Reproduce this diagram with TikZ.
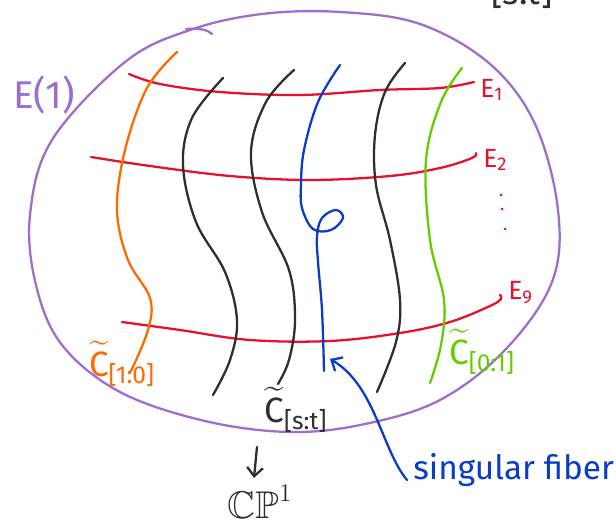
\documentclass[tikz,border=0pt]{standalone}
\usepackage{fontspec}
\usepackage{amsmath,amssymb}
\setsansfont{Fira Sans}
\usetikzlibrary{arrows.meta}
\definecolor{cpurple}{HTML}{9B6FD0}
\definecolor{cred}{HTML}{E8112D}
\definecolor{corange}{HTML}{FF6A00}
\definecolor{cblack}{HTML}{2E2E2E}
\definecolor{cblue}{HTML}{0A3CC8}
\definecolor{cgreen}{HTML}{66CC00}
\newcommand{\tC}[1]{$\widetilde{\textsf{C}}_{\textsf{#1}}$}
\begin{document}
\begin{tikzpicture}[x=0.02cm,y=-0.02cm, line cap=round, line join=round,
  hand/.style={line width=1.3pt},
  fiber/.style={hand, smooth, tension=0.6},
  lbl/.style={font=\sffamily\fontsize{15}{15}\selectfont, inner sep=0pt},
  clbl/.style={font=\fontsize{20}{20}\selectfont, inner sep=0pt}]
\useasboundingbox (0,0) rectangle (616,520);

% boundary of E(1)
\draw[hand, cpurple] plot[smooth cycle, tension=0.6] coordinates {
 (30,215) (52,140) (125,62) (190,30) (262,14) (340,12) (420,24) (490,64)
 (535,124) (558,210) (552,282) (505,350) (440,400) (365,424) (290,432)
 (205,421) (120,392) (62,345) (36,285)};
\draw[hand, cpurple] (186,29) .. controls (200,28) and (208,30) .. (212,34);

% exceptional curves
\draw[hand, cred] plot[smooth, tension=0.6] coordinates {(129,74) (160,84) (220,92) (300,95) (380,90) (440,88) (474,82)};
\draw[hand, cred] plot[smooth, tension=0.6] coordinates {(91,157) (150,166) (230,176) (310,180) (390,176) (440,168) (472,158) (476,153)};
\draw[hand, cred] plot[smooth, tension=0.6] coordinates {(122,322) (180,330) (250,340) (330,341) (400,333) (450,322) (490,306) (501,299) (500,295)};

% fibres
\draw[fiber, corange] plot coordinates {(177,52) (147,88) (125,150) (117,210) (128,260) (150,298) (148,330) (131,371)};
\draw[fiber, cblack] plot coordinates {(223,78) (192,118) (183,165) (196,222) (225,272) (237,320) (230,360) (213,395)};
\draw[fiber, cblack] plot coordinates {(294,70) (266,102) (251,152) (262,212) (289,270) (295,320) (289,360) (278,384)};
\draw[fiber, cblue] plot coordinates {(340,65) (318,102) (304,150) (301,185) (302,208) (313,229) (331,230) (343,218) (336,210) (322,218) (317,236) (318,262) (322,310) (324,371)};
\draw[fiber, cblack] plot coordinates {(405,63) (385,92) (375,135) (376,185) (390,240) (400,300) (396,342) (377,392)};
\draw[fiber, cgreen] plot coordinates {(462,68) (441,102) (426,160) (430,240) (444,300) (441,345) (430,383)};

% labels
\node[font=\sffamily\fontsize{22}{22}\selectfont, text=cpurple, inner sep=0pt] (E) at (44,95) {E(1)};
\node[lbl, text=cred, anchor=west] (e1) at (480,90) {E\textsubscript{1}};
\node[lbl, text=cred, anchor=west] (e2) at (483,160) {E\textsubscript{2}};
\node[lbl, text=cred, anchor=west] (e9) at (508,293) {E\textsubscript{9}};
\foreach \p in {(501,195),(502,209),(505,229)} \fill[cred] \p circle (1.5);

\node[clbl, text=corange] (c10) at (122,364) {\tC{[1:0]}};
\node[clbl, text=cblack] (cst) at (296,410) {\tC{[s:t]}};
\node[clbl, text=cgreen] (c01) at (482,352) {\tC{[0:1]}};
\node[font=\sffamily\fontsize{20}{20}\selectfont, text=cblack, inner sep=0pt] (top) at (522,-8) {[s:t]};

\node[font=\fontsize{22}{22}\selectfont, text=cblack, inner sep=0pt] (cp) at (260,502) {$\mathbb{CP}^1$};
\coordinate (a1) at (257,447);
\coordinate (a2) at (254,478);
\draw[hand, cblack, -{Straight Barb[length=5pt,width=9pt]}] (a1) -- (a2);

\node[font=\sffamily\fontsize{19}{19}\selectfont, text=cblue, inner sep=0pt, anchor=west] (sf) at (413,470) {singular fiber};
\coordinate (tip) at (330,359);
\draw[hand, cblue, -{Straight Barb[length=5pt,width=9pt]}] ([shift={(-6,10)}]sf.west) .. controls (382,450) and (375,385) .. (tip);
\end{tikzpicture}
\end{document}
